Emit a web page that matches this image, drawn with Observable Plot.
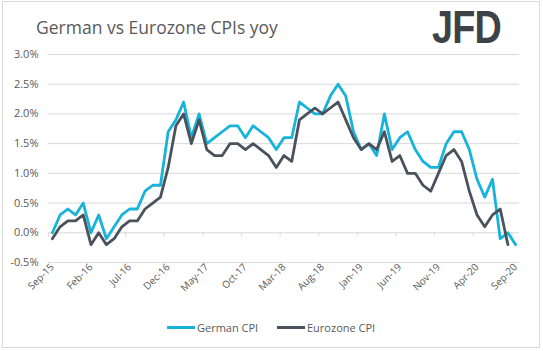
<!DOCTYPE html>
<html>
<head>
<meta charset="utf-8">
<script src="https://cdn.jsdelivr.net/npm/d3@7"></script>
<script src="https://cdn.jsdelivr.net/npm/@observablehq/plot@0.6"></script>
<style>
  html, body { margin: 0; padding: 0; background: #fff; }
  #wrap { position: relative; width: 543px; height: 351px; overflow: hidden; font-family: "Open Sans", sans-serif; }
  #frame { position: absolute; left: 2px; top: 1px; width: 536px; height: 345px; border: 1px solid #d9d9d9; }
  #title { position: absolute; left: 36px; top: 15px; font-size: 17.5px; color: #595959; white-space: nowrap; }
  #logo { position: absolute; left: 432px; top: 1px; font-family: "Liberation Sans", "DejaVu Sans", sans-serif; font-weight: bold; font-size: 46px; line-height: 52px; color: #3d4249; transform: scaleX(0.82); transform-origin: 0 0; letter-spacing: -1px; }
  #chart { position: absolute; left: 0; top: 0; }
  #legend { position: absolute; top: 320px; left: 0; width: 543px; font-size: 11px; color: #595959; }
  .item { position: absolute; display: flex; align-items: center; white-space: nowrap; }
  .sw { display: inline-block; width: 28px; height: 3px; margin-right: 2px; }
</style>
</head>
<body>
<div id="wrap">
  <div id="frame"></div>
  <div id="title">German vs Eurozone CPIs yoy</div>
  <div id="logo">JFD</div>
  <div id="chart"></div>
  <div id="legend"></div>
</div>
<script>
const months = [
  "Sep-15","Oct-15","Nov-15","Dec-15",
  "Jan-16","Feb-16","Mar-16","Apr-16","May-16","Jun-16","Jul-16","Aug-16","Sep-16","Oct-16","Nov-16","Dec-16",
  "Jan-17","Feb-17","Mar-17","Apr-17","May-17","Jun-17","Jul-17","Aug-17","Sep-17","Oct-17","Nov-17","Dec-17",
  "Jan-18","Feb-18","Mar-18","Apr-18","May-18","Jun-18","Jul-18","Aug-18","Sep-18","Oct-18","Nov-18","Dec-18",
  "Jan-19","Feb-19","Mar-19","Apr-19","May-19","Jun-19","Jul-19","Aug-19","Sep-19","Oct-19","Nov-19","Dec-19",
  "Jan-20","Feb-20","Mar-20","Apr-20","May-20","Jun-20","Jul-20","Aug-20","Sep-20"
];
const germanCPI = [
  0.0, 0.3, 0.4, 0.3,
  0.5, 0.0, 0.3, -0.1, 0.1, 0.3, 0.4, 0.4, 0.7, 0.8, 0.8, 1.7,
  1.9, 2.2, 1.6, 2.0, 1.5, 1.6, 1.7, 1.8, 1.8, 1.6, 1.8, 1.7,
  1.6, 1.4, 1.6, 1.6, 2.2, 2.1, 2.0, 2.0, 2.3, 2.5, 2.3, 1.7,
  1.4, 1.5, 1.3, 2.0, 1.4, 1.6, 1.7, 1.4, 1.2, 1.1, 1.1, 1.5,
  1.7, 1.7, 1.4, 0.9, 0.6, 0.9, -0.1, 0.0, -0.2
];
const eurozoneCPI = [
  -0.1, 0.1, 0.2, 0.2,
  0.3, -0.2, 0.0, -0.2, -0.1, 0.1, 0.2, 0.2, 0.4, 0.5, 0.6, 1.1,
  1.8, 2.0, 1.5, 1.9, 1.4, 1.3, 1.3, 1.5, 1.5, 1.4, 1.5, 1.4,
  1.3, 1.1, 1.3, 1.2, 1.9, 2.0, 2.1, 2.0, 2.1, 2.2, 1.9, 1.6,
  1.4, 1.5, 1.4, 1.7, 1.2, 1.3, 1.0, 1.0, 0.8, 0.7, 1.0, 1.3,
  1.4, 1.2, 0.7, 0.3, 0.1, 0.3, 0.4, -0.2
];
const yTicks = [-0.5, 0.0, 0.5, 1.0, 1.5, 2.0, 2.5, 3.0];
const xLabelEvery = 5;
const seriesNames = ["German CPI", "Eurozone CPI"];
const seriesColors = ["#17b3da", "#4a535d"];

const german = germanCPI.map((v, i) => ({i, v}));
const euro = eurozoneCPI.map((v, i) => ({i, v}));
const labelIdx = months.map((m, i) => i).filter(i => i % xLabelEvery === 0);
const boundaries = labelIdx.map(i => i - 0.5);

const plot = Plot.plot({
  width: 543,
  height: 351,
  marginLeft: 48,
  marginRight: 24,
  marginTop: 54,
  marginBottom: 89,
  style: {fontFamily: "Open Sans, sans-serif", color: "#595959", background: "transparent"},
  x: {domain: [-0.5, months.length - 0.5], axis: null},
  y: {domain: [-0.5, 3.0], axis: null},
  marks: [
    Plot.ruleY(yTicks, {stroke: "#d9d9d9", strokeWidth: 1}),
    Plot.ruleX(boundaries, {x: d => d, y1: 0, y2: 0, insetBottom: -4, stroke: "#d9d9d9"}),
    Plot.axisY(yTicks, {label: null, tickSize: 0, tickPadding: 10, tickFormat: d => d.toFixed(1) + "%", fontSize: 11, fill: "#595959"}),
    Plot.axisX(labelIdx, {label: null, tickSize: 0, tickPadding: 3, tickRotate: -45, tickFormat: i => months[i], fontSize: 10, fill: "#595959"}),
    Plot.line(german, {x: "i", y: "v", stroke: seriesColors[0], strokeWidth: 2.8, strokeLinejoin: "round"}),
    Plot.line(euro, {x: "i", y: "v", stroke: seriesColors[1], strokeWidth: 2.8, strokeLinejoin: "round"})
  ]
});
document.getElementById("chart").appendChild(plot);

const legend = document.getElementById("legend");
const lefts = [167, 277];
seriesNames.forEach((name, k) => {
  const it = document.createElement("div");
  it.className = "item";
  it.style.left = lefts[k] + "px";
  it.innerHTML = `<span class="sw" style="background:${seriesColors[k]}"></span><span>${name}</span>`;
  legend.appendChild(it);
});
</script>
</body>
</html>
